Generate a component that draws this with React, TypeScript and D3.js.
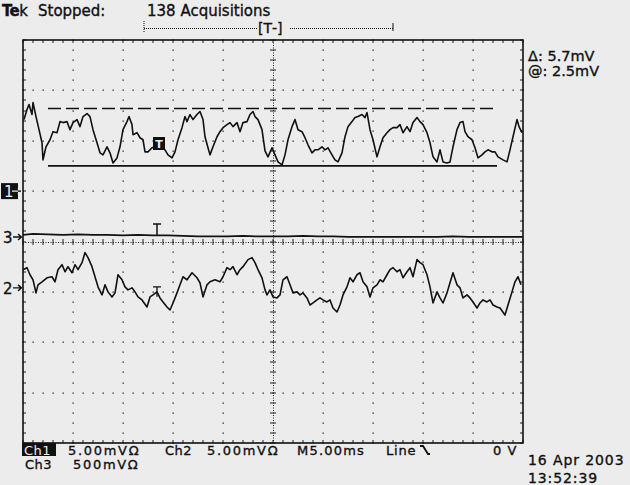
import React from 'react';
import * as d3 from 'd3';

// Oscilloscope capture: 10 x 8 divisions, 5 ms/div
const timeDomain: [number, number] = [-25, 25];
const divDomain: [number, number] = [-4, 4];

// channel offsets (divisions) and volts/div (mV)
const channelOffsetDiv = { ch1: 1.0, ch2: -0.92, ch3: 0.09 };
const channelMvPerDiv = { ch1: 5, ch2: 5, ch3: 500 };

// [time ms, mV]
const ch1Samples: [number, number][] = [
  [-24.9, 7.1], [-24.6, 8.1], [-24.4, 8.6], [-24.1, 7.6], [-24.0, 8.8], [-23.7, 7.4], [-23.4, 6.1],
  [-23.1, 4.8], [-23.0, 3.1], [-22.7, 4.4], [-22.3, 5.1], [-22.0, 5.9], [-21.6, 5.8], [-21.3, 6.9],
  [-21.0, 6.8], [-20.6, 6.9], [-20.3, 6.1], [-20.0, 6.8], [-19.6, 7.1], [-19.3, 6.4], [-19.0, 7.4],
  [-18.6, 7.7], [-18.3, 7.4], [-18.0, 6.1], [-17.6, 4.8], [-17.3, 3.8], [-17.0, 3.6], [-16.6, 4.4],
  [-16.3, 3.8], [-16.0, 2.8], [-15.6, 3.3], [-15.3, 4.4], [-15.0, 6.1], [-14.6, 6.9], [-14.4, 7.4],
  [-14.1, 6.6], [-14.0, 5.6], [-13.6, 5.8], [-13.3, 5.3], [-13.0, 5.1], [-12.8, 3.9], [-12.5, 3.9],
  [-12.1, 4.3], [-11.8, 4.4], [-11.3, 4.6], [-10.8, 4.1], [-10.5, 3.6], [-10.1, 3.3], [-9.8, 3.9],
  [-9.5, 5.1], [-9.1, 6.3], [-8.8, 7.4], [-8.6, 6.9], [-8.3, 7.6], [-8.0, 7.1], [-7.6, 7.6],
  [-7.3, 7.9], [-7.0, 7.1], [-6.8, 5.4], [-6.5, 4.3], [-6.3, 3.6], [-6.0, 4.4], [-5.6, 5.4],
  [-5.3, 5.9], [-5.0, 6.3], [-4.6, 6.6], [-4.3, 6.8], [-4.0, 6.4], [-3.6, 6.8], [-3.3, 5.9],
  [-3.0, 6.8], [-2.6, 6.9], [-2.3, 7.6], [-2.0, 7.9], [-1.8, 7.4], [-1.5, 7.1], [-1.1, 6.1],
  [-0.8, 4.0], [-0.5, 3.4], [-0.1, 4.3], [0.2, 3.6], [0.5, 2.9], [0.9, 2.6], [1.2, 3.6],
  [1.5, 5.1], [1.9, 6.4], [2.2, 7.1], [2.5, 6.1], [2.9, 5.9], [3.2, 5.3], [3.5, 4.6],
  [3.9, 3.8], [4.2, 4.1], [4.5, 4.1], [4.9, 4.4], [5.2, 4.1], [5.5, 4.3], [5.9, 3.6],
  [6.2, 3.1], [6.5, 2.9], [6.9, 3.8], [7.2, 5.4], [7.5, 6.4], [7.9, 6.9], [8.2, 7.3],
  [8.5, 7.4], [8.9, 7.6], [9.2, 7.3], [9.4, 7.8], [9.7, 6.1], [10.0, 5.1], [10.4, 3.4],
  [10.7, 4.4], [11.0, 5.3], [11.4, 5.8], [11.7, 6.1], [12.0, 6.3], [12.4, 6.3], [12.7, 6.6],
  [13.0, 5.8], [13.4, 6.4], [13.7, 5.9], [14.0, 6.8], [14.4, 7.3], [14.7, 6.9], [15.0, 6.6],
  [15.4, 5.8], [15.7, 4.8], [16.0, 3.4], [16.4, 2.9], [16.7, 4.1], [17.0, 2.9], [17.4, 2.8],
  [17.7, 2.9], [18.0, 4.4], [18.4, 6.1], [18.7, 6.8], [19.0, 6.9], [19.2, 5.9], [19.5, 5.4],
  [19.9, 5.1], [20.2, 4.3], [20.5, 3.3], [20.9, 3.6], [21.2, 3.9], [21.5, 4.1], [21.9, 3.9],
  [22.2, 3.9], [22.5, 3.4], [23.0, 3.1], [23.4, 2.9], [23.7, 4.1], [24.0, 5.4], [24.4, 7.1],
  [24.6, 6.4], [24.9, 5.8],
];

const ch2Samples: [number, number][] = [
  [-25.0, 1.8], [-24.6, 2.0], [-24.3, 1.3], [-24.0, 0.8], [-23.7, -0.5], [-23.5, 0.3], [-23.1, 0.6],
  [-22.6, 1.0], [-22.1, 1.1], [-21.8, 0.6], [-21.5, 1.8], [-21.1, 2.3], [-20.8, 1.6], [-20.5, 2.1],
  [-20.1, 1.5], [-19.8, 2.3], [-19.5, 1.8], [-19.1, 2.5], [-18.8, 3.5], [-18.5, 3.0], [-18.1, 2.1],
  [-17.8, 1.1], [-17.5, 0.1], [-17.1, -0.7], [-16.8, 0.3], [-16.5, -0.4], [-16.1, -0.9], [-15.8, -0.5],
  [-15.5, 1.3], [-15.1, 0.8], [-14.8, 0.1], [-14.5, -0.2], [-14.1, 0.0], [-13.8, -0.4], [-13.5, -0.9],
  [-13.1, -1.2], [-12.6, -1.9], [-12.3, -0.9], [-12.0, -0.7], [-11.6, -0.4], [-11.3, -1.0], [-11.0, -1.4],
  [-10.6, -1.9], [-10.3, -2.2], [-10.0, -1.5], [-9.6, -0.5], [-9.3, 0.3], [-9.0, 1.1], [-8.6, 0.8],
  [-8.1, 1.5], [-7.6, 1.0], [-7.3, 0.5], [-7.0, -0.9], [-6.6, 0.3], [-6.3, 0.6], [-5.8, 0.8],
  [-5.3, 0.6], [-5.0, 1.1], [-4.6, 2.0], [-4.3, 1.8], [-4.0, 2.1], [-3.6, 1.3], [-3.3, 1.8],
  [-3.0, 2.1], [-2.5, 2.8], [-2.1, 3.0], [-1.8, 2.5], [-1.5, 1.8], [-1.1, 1.0], [-0.8, -0.2],
  [-0.6, -0.7], [-0.3, -0.2], [0.0, -0.9], [0.4, -1.0], [0.7, -0.7], [1.0, 0.8], [1.4, 1.1],
  [1.7, 0.3], [2.0, -0.5], [2.4, -0.4], [2.7, -0.7], [3.0, -0.5], [3.4, -1.0], [3.7, -1.7],
  [4.0, -1.5], [4.4, -1.2], [4.7, -1.0], [5.0, -1.2], [5.4, -1.4], [5.7, -1.2], [6.0, -2.0],
  [6.4, -2.4], [6.7, -1.7], [7.0, -0.7], [7.4, 0.1], [7.7, 1.0], [8.0, 0.6], [8.4, 1.3],
  [8.7, 1.5], [9.0, 0.6], [9.4, 0.1], [9.7, -0.9], [10.0, 0.0], [10.4, 0.3], [10.7, 0.8],
  [11.0, 0.6], [11.4, 1.3], [11.7, 1.8], [12.0, 2.0], [12.4, 1.6], [12.7, 1.8], [13.0, 1.0],
  [13.4, 1.6], [13.7, 2.0], [14.0, 1.1], [14.4, 2.8], [14.7, 2.5], [15.0, 2.3], [15.4, 1.3],
  [15.7, 0.1], [16.0, -1.5], [16.4, -0.4], [16.7, -1.0], [17.0, -1.5], [17.4, -0.5], [17.7, 0.5],
  [18.0, 1.5], [18.4, 0.3], [18.7, 0.0], [19.0, -1.0], [19.4, -0.7], [19.7, -1.0], [20.0, -1.4],
  [20.4, -2.0], [20.7, -1.5], [21.0, -1.2], [21.4, -1.4], [21.7, -1.2], [22.0, -1.7], [22.4, -1.9],
  [22.7, -2.0], [23.2, -2.7], [23.5, -1.7], [23.9, -0.4], [24.2, 0.6], [24.5, 1.1], [24.8, 0.3],
];

const ch3Samples: [number, number][] = [
  [-25.0, 20], [-24.0, 30], [-22.5, 25], [-21.0, 20], [-19.5, 25], [-18.0, 20], [-16.5, 20],
  [-15.0, 15], [-13.5, 20], [-12.0, 15], [-10.5, 15], [-9.0, 10], [-7.5, 5], [-6.0, 5],
  [-4.5, 5], [-3.0, 10], [-1.5, 5], [0.0, 5], [1.5, 5], [3.0, 10], [4.5, 5], [6.0, 5],
  [7.5, 0], [9.0, 0], [10.5, 0], [12.0, 0], [13.5, 0], [15.0, 0], [16.5, 0], [18.0, 5],
  [19.5, 0], [21.0, 0], [22.5, 0], [24.0, 0], [25.0, 0],
];

// cursors on ch1 (mV): dashed upper, solid lower
const cursorMv = [8.2, 2.5];
const cursorSpanMs: [number, number] = [-22.5, 22.4];
const triggerMs = -11.6;

const headerLeft = 'Stopped:';
const headerAcq = '138 Acquisitions';
const cursorReadouts = ['\u0394: 5.7mV', '@: 2.5mV'];
const dateLines = ['16 Apr 2003', '13:52:39'];

const W = 630;
const H = 485;
const frame = { left: 23, right: 523, top: 40, bottom: 443 };
const ink = '#111';
const bg = '#ececec';

export default function App() {
  const x = d3.scaleLinear().domain(timeDomain).range([frame.left, frame.right]);
  const xDiv = d3.scaleLinear().domain([-5, 5]).range([frame.left, frame.right]);
  const yDiv = d3.scaleLinear().domain(divDomain).range([frame.bottom, frame.top]);

  const yFor = (ch: 'ch1' | 'ch2' | 'ch3') => (mv: number) =>
    yDiv(channelOffsetDiv[ch] + mv / channelMvPerDiv[ch]);

  const lineFor = (ch: 'ch1' | 'ch2' | 'ch3') =>
    d3.line<[number, number]>()
      .x(d => x(d[0]))
      .y(d => yFor(ch)(d[1]));

  // graticule dots
  let dots = '';
  d3.range(-4, 5).filter(i => i !== 0).forEach(i => {
    const gx = Math.round(xDiv(i));
    d3.range(-20, 21).forEach(j => {
      const gy = Math.round(yDiv(j * 0.2));
      dots += `M${gx - 0.5},${gy - 0.5}h1.3v1.3h-1.3z`;
    });
  });
  d3.range(-3, 4).filter(k => k !== 0).forEach(k => {
    const gy = Math.round(yDiv(k));
    d3.range(-25, 26).forEach(j => {
      const gx = Math.round(xDiv(j * 0.2));
      dots += `M${gx - 0.5},${gy - 0.5}h1.3v1.3h-1.3z`;
    });
  });

  // center-line and edge ticks
  let ticks = '';
  const cx = Math.round(xDiv(0));
  const cy = Math.round(yDiv(0));
  d3.range(-20, 21).forEach(j => {
    const gy = Math.round(yDiv(j * 0.2));
    ticks += `M${cx - 3},${gy}h6`;
    ticks += `M${frame.left},${gy}h3M${frame.right},${gy}h-3`;
  });
  d3.range(-25, 26).forEach(j => {
    const gx = Math.round(xDiv(j * 0.2));
    ticks += `M${gx},${cy - 3}v6`;
    ticks += `M${gx},${frame.top}v3M${gx},${frame.bottom}v-3`;
  });

  const trigX = x(triggerMs);
  const markerY = {
    ch1: yFor('ch1')(0),
    ch2: yFor('ch2')(0),
    ch3: yFor('ch3')(0),
  };

  const sans = "'DejaVu Sans', Verdana, sans-serif";
  // a thin outline thickens the glyphs like the scope's screen font
  const heavy = { stroke: ink, strokeWidth: 0.35 };

  return (
    <svg width={W} height={H} style={{ position: 'fixed', left: 0, top: 0 }} fontFamily={sans}>
      <rect width={W} height={H} fill={bg} />

      {/* header */}
      <text x={2} y={16} fontSize={15} fill={ink} {...heavy}>
        <tspan fontWeight="bold" letterSpacing={-0.8}>Te</tspan>
        <tspan dx={0.5}>k</tspan>
      </text>
      <text x={38} y={16} fontSize={15} fill={ink} {...heavy}>{headerLeft}</text>
      <text x={147} y={16} fontSize={15} fill={ink} {...heavy}>{headerAcq}</text>

      {/* record bracket */}
      <line x1={144} x2={393} y1={28.5} y2={28.5} stroke={ink} strokeWidth={1} strokeDasharray="1,1" />
      <line x1={144} x2={144} y1={21} y2={33} stroke={ink} strokeWidth={1} strokeDasharray="1,1" />
      <line x1={393} x2={393} y1={23} y2={31} stroke={ink} strokeWidth={1} />
      <rect x={258} y={20} width={32} height={15} fill={bg} />
      <text x={258} y={33} fontSize={14} fill={ink} {...heavy}>[T‑]</text>

      {/* graticule */}
      <path d={dots} fill="#222" />
      <line x1={cx + 0.5} x2={cx + 0.5} y1={frame.top} y2={frame.bottom} stroke="#222" strokeDasharray="1,1.5" />
      <line x1={frame.left} x2={frame.right} y1={cy + 0.5} y2={cy + 0.5} stroke="#222" strokeDasharray="1,1.5" />
      <path d={ticks} stroke="#222" strokeWidth={1} fill="none" />
      <rect
        x={frame.left}
        y={frame.top}
        width={frame.right - frame.left}
        height={frame.bottom - frame.top}
        fill="none"
        stroke={ink}
        strokeWidth={1.6}
      />

      {/* cursors */}
      <line
        x1={x(cursorSpanMs[0])} x2={x(cursorSpanMs[1])}
        y1={yFor('ch1')(cursorMv[0])} y2={yFor('ch1')(cursorMv[0])}
        stroke={ink} strokeWidth={1.7} strokeDasharray="13,5"
      />
      <line
        x1={x(cursorSpanMs[0])} x2={x(cursorSpanMs[1])}
        y1={yFor('ch1')(cursorMv[1])} y2={yFor('ch1')(cursorMv[1])}
        stroke={ink} strokeWidth={1.7}
      />

      {/* traces */}
      <path d={lineFor('ch3')(ch3Samples) || ''} fill="none" stroke={ink} strokeWidth={1.7} />
      <path d={lineFor('ch1')(ch1Samples) || ''} fill="none" stroke={ink} strokeWidth={1.6} strokeLinejoin="round" />
      <path d={lineFor('ch2')(ch2Samples) || ''} fill="none" stroke={ink} strokeWidth={1.6} strokeLinejoin="round" />

      {/* trigger marks */}
      <rect x={trigX - 4} y={137} width={12} height={13} fill={ink} />
      <text x={trigX + 2} y={148} fontSize={11} fill={bg} textAnchor="middle" fontWeight="bold">T</text>
      <path d={`M${trigX - 4},${markerY.ch3 - 13}h8M${trigX},${markerY.ch3 - 13}v12`} stroke={ink} strokeWidth={1.5} />
      <path d={`M${trigX - 4},${markerY.ch2 - 1}h8M${trigX},${markerY.ch2 - 1}v10`} stroke={ink} strokeWidth={1.3} />

      {/* channel markers */}
      <rect x={1} y={markerY.ch1 - 8} width={17} height={16} fill={ink} />
      <text x={4} y={markerY.ch1 + 6} fontSize={15} fill={bg}>1</text>
      <path d={`M12,${markerY.ch1}H21M18,${markerY.ch1 - 3}L21.5,${markerY.ch1}L18,${markerY.ch1 + 3}`} stroke={bg} strokeWidth={1.4} fill="none" />
      <path d={`M18,${markerY.ch1}H21`} stroke={ink} strokeWidth={1.4} />
      {(['ch3', 'ch2'] as const).map(ch => (
        <g key={ch}>
          <text x={3} y={markerY[ch] + 6} fontSize={15} fill={ink} {...heavy}>{ch.slice(2)}</text>
          <path
            d={`M13,${markerY[ch]}H21M18,${markerY[ch] - 3}L21.5,${markerY[ch]}L18,${markerY[ch] + 3}`}
            stroke={ink} strokeWidth={1.4} fill="none"
          />
        </g>
      ))}

      {/* cursor readouts */}
      {cursorReadouts.map((t, i) => (
        <text key={t} x={528} y={61 + i * 15} fontSize={14.5} fill={ink} {...heavy}>{t}</text>
      ))}

      {/* status line */}
      <rect x={22} y={443} width={34} height={13} fill={ink} />
      <text x={24} y={455} fontSize={13} fill={bg} letterSpacing={0.5}>Ch1</text>
      <text x={68} y={455} fontSize={13} fill={ink} letterSpacing={1.7} {...heavy}>5.00mVΩ</text>
      <text x={165} y={455} fontSize={13} fill={ink} letterSpacing={0.5} {...heavy}>Ch2</text>
      <text x={207} y={455} fontSize={13} fill={ink} letterSpacing={1.7} {...heavy}>5.00mVΩ</text>
      <text x={297} y={455} fontSize={13} fill={ink} letterSpacing={1.2} {...heavy}>M5.00ms</text>
      <text x={386} y={455} fontSize={13} fill={ink} letterSpacing={0.8} {...heavy}>Line</text>
      <path d="M420,446h3l5,8h2" stroke={ink} strokeWidth={1.8} fill="none" />
      <text x={493} y={455} fontSize={13} fill={ink} letterSpacing={1} {...heavy}>0 V</text>
      <text x={25} y={469} fontSize={13} fill={ink} letterSpacing={0.5} {...heavy}>Ch3</text>
      <text x={73} y={469} fontSize={13} fill={ink} letterSpacing={1.7} {...heavy}>500mVΩ</text>

      {dateLines.map((t, i) => (
        <text key={t} x={528} y={465 + i * 18} fontSize={14} fill={ink} letterSpacing={0.9} {...heavy}>{t}</text>
      ))}
    </svg>
  );
}
